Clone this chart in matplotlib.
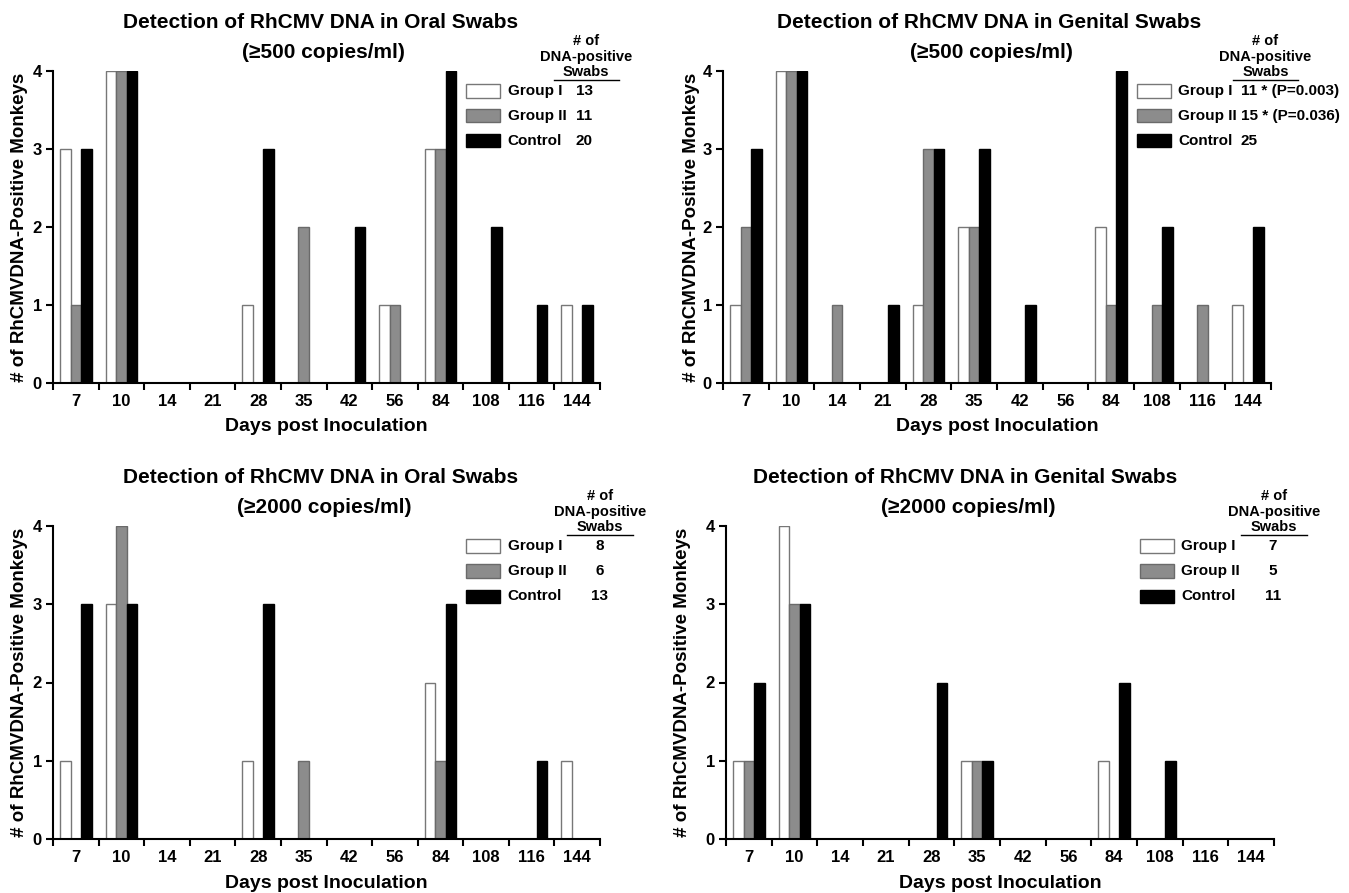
import matplotlib.pyplot as plt
from matplotlib.patches import Rectangle
import numpy as np

plt.rcParams['font.family'] = ['Liberation Sans', 'DejaVu Sans']
plt.rcParams['font.weight'] = 'bold'

# Days post inoculation (categories)
days = ['7', '10', '14', '21', '28', '35', '42', '56', '84', '108', '116', '144']

# Oral swabs, >=500 copies/ml
oral500_g1 = [3, 4, 0, 0, 1, 0, 0, 1, 3, 0, 0, 1]
oral500_g2 = [1, 4, 0, 0, 0, 2, 0, 1, 3, 0, 0, 0]
oral500_ctrl = [3, 4, 0, 0, 3, 0, 2, 0, 4, 2, 1, 1]
oral500_counts = ['13', '11', '20']

# Genital swabs, >=500 copies/ml
gen500_g1 = [1, 4, 0, 0, 1, 2, 0, 0, 2, 0, 0, 1]
gen500_g2 = [2, 4, 1, 0, 3, 2, 0, 0, 1, 1, 1, 0]
gen500_ctrl = [3, 4, 0, 1, 3, 3, 1, 0, 4, 2, 0, 2]
gen500_counts = ['11 * (P=0.003)', '15 * (P=0.036)', '25']

# Oral swabs, >=2000 copies/ml
oral2000_g1 = [1, 3, 0, 0, 1, 0, 0, 0, 2, 0, 0, 1]
oral2000_g2 = [0, 4, 0, 0, 0, 1, 0, 0, 1, 0, 0, 0]
oral2000_ctrl = [3, 3, 0, 0, 3, 0, 0, 0, 3, 0, 1, 0]
oral2000_counts = ['8', '6', '13']

# Genital swabs, >=2000 copies/ml
gen2000_g1 = [1, 4, 0, 0, 0, 1, 0, 0, 1, 0, 0, 0]
gen2000_g2 = [1, 3, 0, 0, 0, 1, 0, 0, 0, 0, 0, 0]
gen2000_ctrl = [2, 3, 0, 0, 2, 1, 0, 0, 2, 1, 0, 0]
gen2000_counts = ['7', '5', '11']

groups = ['Group I', 'Group II', 'Control']
face = ['white', '#8c8c8c', 'black']
edge = ['#777777', '#6a6a6a', 'black']

W, H = 1349, 893
fig = plt.figure(figsize=(W / 100, H / 100), dpi=100)


def add_axes(l, r, t, b):
    return fig.add_axes([l / W, 1 - b / H, (r - l) / W, (b - t) / H])


# (axes box px, title, subtitle, data, counts, title x, ylabel x, count x, count align, header x)
panels = [
    ((53, 600, 71, 383), 'Detection of RhCMV DNA in Oral Swabs', '(\u2265500 copies/ml)',
     (oral500_g1, oral500_g2, oral500_ctrl), oral500_counts, 0.49, -0.046, 0.971, 'center', 0.975),
    ((723, 1271, 71, 383), 'Detection of RhCMV DNA in Genital Swabs', '(\u2265500 copies/ml)',
     (gen500_g1, gen500_g2, gen500_ctrl), gen500_counts, 0.485, -0.042, 0.945, 'left', 0.99),
    ((53, 600, 526, 839), 'Detection of RhCMV DNA in Oral Swabs', '(\u22652000 copies/ml)',
     (oral2000_g1, oral2000_g2, oral2000_ctrl), oral2000_counts, 0.49, -0.046, 1.0, 'center', 1.0),
    ((726, 1274, 526, 839), 'Detection of RhCMV DNA in Genital Swabs', '(\u22652000 copies/ml)',
     (gen2000_g1, gen2000_g2, gen2000_ctrl), gen2000_counts, 0.437, -0.064, 0.998, 'center', 1.0),
]

x = np.arange(len(days))
w = 0.23

for box, title, sub, series, counts, tx, ylx, cx, calign, hx in panels:
    ax = add_axes(*box)
    for k, vals in enumerate(series):
        ax.bar(x + (k - 1) * w, vals, w, color=face[k], edgecolor=edge[k], linewidth=1)

    ax.set_xlim(-0.5, 11.5)
    ax.set_ylim(0, 4)
    ax.set_xticks(np.arange(-0.5, 12, 1))
    ax.set_xticklabels([])
    ax.set_xticks(x, minor=True)
    ax.set_xticklabels(days, minor=True)
    ax.tick_params(axis='x', which='major', length=5, width=1.5)
    ax.tick_params(axis='x', which='minor', length=0, pad=8, labelsize=12)
    ax.set_yticks(range(5))
    ax.tick_params(axis='y', length=5, width=1.5, pad=3, labelsize=12)
    for s in ['top', 'right']:
        ax.spines[s].set_visible(False)
    for s in ['left', 'bottom']:
        ax.spines[s].set_linewidth(1.5)

    ax.set_ylabel('# of RhCMVDNA-Positive Monkeys', fontsize=13.5, fontweight='bold')
    ax.yaxis.set_label_coords(ylx, 0.5)
    ax.text(0.5, -0.141, 'Days post Inoculation', transform=ax.transAxes,
            ha='center', va='center', fontsize=14)
    ax.text(tx, 1.155, title, transform=ax.transAxes, ha='center', va='center', fontsize=15)
    ax.text(tx + 0.005, 1.058, sub, transform=ax.transAxes, ha='center', va='center', fontsize=15)

    # legend header
    ax.text(hx, 1.097, '# of', transform=ax.transAxes, ha='center', va='center', fontsize=10.5)
    ax.text(hx, 1.045, 'DNA-positive', transform=ax.transAxes, ha='center', va='center', fontsize=10.5)
    ax.text(hx, 0.997, 'Swabs', transform=ax.transAxes, ha='center', va='center', fontsize=10.5)
    ax.plot([hx - 0.06, hx + 0.06], [0.972, 0.972], transform=ax.transAxes,
            color='black', lw=1, clip_on=False)

    # legend rows
    for k, (g, c) in enumerate(zip(groups, counts)):
        yy = 0.936 - k * 0.08
        ax.add_patch(Rectangle((0.755, yy - 0.021), 0.062, 0.042, transform=ax.transAxes,
                               facecolor=face[k], edgecolor=edge[k], lw=1, clip_on=False))
        ax.text(0.831, yy, g, transform=ax.transAxes, ha='left', va='center', fontsize=11)
        ax.text(cx, yy, c, transform=ax.transAxes, ha=calign, va='center', fontsize=11)

fig.savefig('out.png', dpi=100)
